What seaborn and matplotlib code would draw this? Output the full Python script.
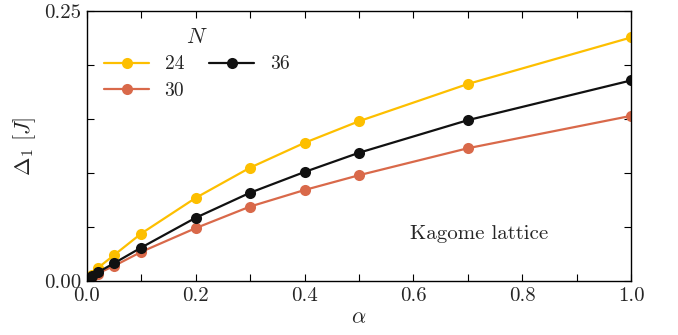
import numpy as np
import pandas as pd
import matplotlib
matplotlib.use("Agg")
import matplotlib.pyplot as plt
import seaborn as sns
from matplotlib.ticker import FixedLocator

alpha = [0.005, 0.01, 0.02, 0.05, 0.1, 0.2, 0.3, 0.4, 0.5, 0.7, 1.0]
gap_24 = [0.003, 0.006, 0.012, 0.024, 0.044, 0.077, 0.105, 0.128, 0.148, 0.1825, 0.2256]
gap_30 = [0.002, 0.004, 0.007, 0.014, 0.027, 0.049, 0.069, 0.0843, 0.098, 0.123, 0.153]
gap_36 = [0.003, 0.005, 0.008, 0.0165, 0.031, 0.0586, 0.0818, 0.101, 0.1188, 0.149, 0.1858]
sizes = ["24", "30", "36"]
colors = {"24": "#fdbf00", "30": "#d9694a", "36": "#111111"}
x_ticks = [0.0, 0.2, 0.4, 0.6, 0.8, 1.0]
x_labels = ["0.0", "0.2", "0.4", "0.6", "0.8", "1.0"]
y_ticks = [0.0, 0.25]
y_labels = ["0.00", "0.25"]

df = pd.DataFrame({
    "alpha": alpha * 3,
    "gap": gap_24 + gap_30 + gap_36,
    "N": [s for s in sizes for _ in alpha],
})

sns.set_theme(style="ticks")
plt.rcParams["font.family"] = "serif"
plt.rcParams["font.serif"] = ["cmr10", "DejaVu Serif"]
plt.rcParams["mathtext.fontset"] = "cm"
plt.rcParams["axes.formatter.use_mathtext"] = True
plt.rcParams["axes.unicode_minus"] = False

fig = plt.figure(figsize=(6.78, 3.35), dpi=100)
ax = fig.add_axes([0.128, 0.161, 0.803, 0.806])

sns.lineplot(data=df, x="alpha", y="gap", hue="N", hue_order=sizes, palette=colors,
             marker="o", markersize=8, markeredgewidth=0, linewidth=1.6, ax=ax,
             legend=True)

ax.set_xlim(0, 1.0)
ax.set_ylim(0, 0.25)
ax.set_xticks(x_ticks, x_labels)
ax.set_yticks(y_ticks, y_labels)
ax.xaxis.set_minor_locator(FixedLocator([0.1, 0.3, 0.5, 0.7, 0.9]))
ax.yaxis.set_minor_locator(FixedLocator([0.05, 0.10, 0.15, 0.20]))
ax.tick_params(which="both", direction="in", top=True, right=True, labelsize=15, color="black")
ax.tick_params(which="major", length=5, width=0.8, pad=4)
ax.tick_params(which="minor", length=5, width=0.8)
for s in ax.spines.values():
    s.set_color("black")
    s.set_linewidth(1.0)

ax.set_xlabel(r"$\alpha$", fontsize=16, labelpad=2)
ax.set_ylabel(r"$\Delta_1\ [J]$", fontsize=16, labelpad=4)

handles, labels = ax.get_legend_handles_labels()
leg = ax.legend(handles, labels, title=r"$N$", ncol=2, frameon=False, fontsize=14,
                title_fontsize=16, loc="upper left", bbox_to_anchor=(0.0, 1.005),
                handlelength=2.3, handletextpad=0.8, columnspacing=1.3, labelspacing=0.45,
                borderaxespad=0.5)

ax.text(0.72, 0.044, "Kagome lattice", fontsize=15, ha="center", va="center")

fig.savefig("out.png", dpi=100)
